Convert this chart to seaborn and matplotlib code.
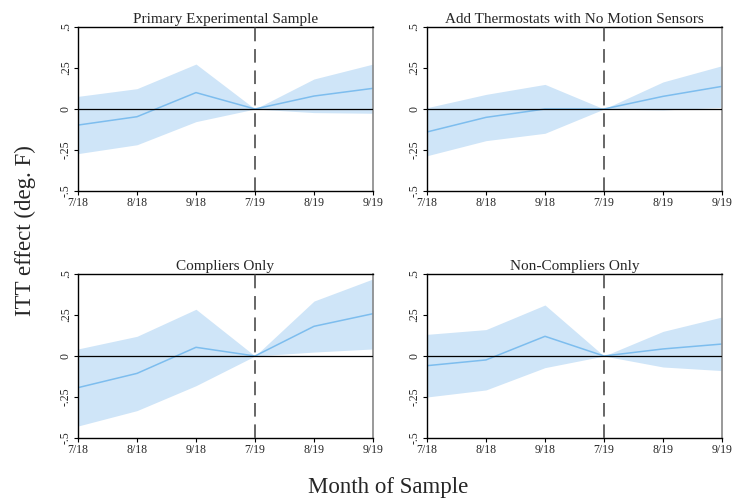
import matplotlib.pyplot as plt
import seaborn as sns
import pandas as pd

months = ['7/18', '8/18', '9/18', '7/19', '8/19', '9/19']
titles = ['Primary Experimental Sample', 'Add Thermostats with No Motion Sensors',
          'Compliers Only', 'Non-Compliers Only']

# point estimates, upper and lower CI per panel
est_primary = [-0.098, -0.047, 0.100, 0.0, 0.079, 0.126]
hi_primary = [0.077, 0.124, 0.274, 0.0, 0.183, 0.274]
lo_primary = [-0.272, -0.218, -0.077, 0.0, -0.022, -0.026]

est_thermo = [-0.140, -0.051, 0.000, 0.0, 0.077, 0.138]
hi_thermo = [0.008, 0.089, 0.150, 0.0, 0.165, 0.264]
lo_thermo = [-0.285, -0.193, -0.148, 0.0, -0.006, 0.010]

est_comp = [-0.193, -0.106, 0.053, 0.0, 0.181, 0.258]
hi_comp = [0.043, 0.120, 0.285, 0.0, 0.335, 0.470]
lo_comp = [-0.427, -0.333, -0.181, 0.0, 0.024, 0.043]

est_noncomp = [-0.059, -0.024, 0.120, 0.0, 0.043, 0.073]
hi_noncomp = [0.132, 0.161, 0.311, 0.0, 0.150, 0.238]
lo_noncomp = [-0.250, -0.207, -0.071, 0.0, -0.067, -0.089]

ests = [est_primary, est_thermo, est_comp, est_noncomp]
his = [hi_primary, hi_thermo, hi_comp, hi_noncomp]
los = [lo_primary, lo_thermo, lo_comp, lo_noncomp]

yticks = [-0.5, -0.25, 0, 0.25, 0.5]
ytick_labels = ['-.5', '-.25', '0', '.25', '.5']

sns.set_style('white')
plt.rcParams['font.family'] = ['Liberation Serif', 'DejaVu Serif']

fig = plt.figure(figsize=(7.33, 5.04), dpi=100)
W, H = 733, 504
boxes = [(78, 27), (427, 27), (78, 274), (427, 274)]
aw, ah = 295, 164

line_col = '#7dbdee'
fill_col = '#cfe5f8'

for i in range(4):
    x0, y0 = boxes[i]
    ax = fig.add_axes([x0 / W, 1 - (y0 + ah) / H, aw / W, ah / H])
    df = pd.DataFrame({'x': range(len(months)), 'est': ests[i],
                       'hi': his[i], 'lo': los[i]})
    ax.fill_between(df['x'], df['lo'], df['hi'], color=fill_col, lw=0, zorder=1)
    sns.lineplot(data=df, x='x', y='est', ax=ax, color=line_col, lw=1.1, zorder=2)
    ax.axhline(0, color='black', lw=0.9, zorder=3)
    ax.axvline(3, color='#666666', lw=1.4, ls=(0, (7, 4)), zorder=4)
    ax.set_xlim(0, 5)
    ax.set_ylim(-0.5, 0.5)
    ax.set_xticks(range(len(months)))
    ax.set_xticklabels(months, fontsize=8.5)
    ax.set_yticks(yticks)
    ax.set_yticklabels(ytick_labels, fontsize=8.5, rotation=90, va='center')
    ax.tick_params(axis='both', direction='out', length=3, width=0.8,
                   color='black', pad=1.5, bottom=True, left=True)
    ax.set_xlabel('')
    ax.set_ylabel('')
    ax.set_title(titles[i], fontsize=11, pad=3)
    for side in ['left', 'bottom', 'top']:
        ax.spines[side].set_color('black')
        ax.spines[side].set_linewidth(1.0)
    ax.spines['right'].set_color('#888888')
    ax.spines['right'].set_linewidth(1.2)

fig.text(25 / W, 1 - 231 / H, 'ITT effect (deg. F)', rotation=90,
         fontsize=16.5, ha='center', va='center')
fig.text(388 / W, 1 - 488 / H, 'Month of Sample', fontsize=16.5,
         ha='center', va='center')

plt.savefig('out.png', dpi=100)
